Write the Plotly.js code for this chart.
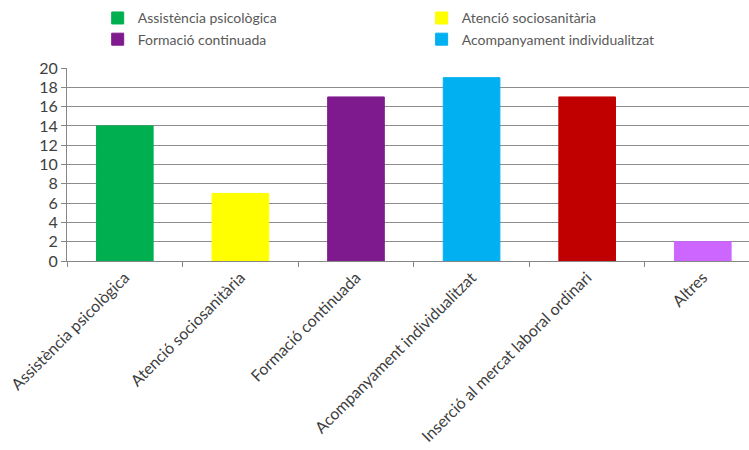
<!DOCTYPE html>
<html>
<head>
<meta charset="utf-8">
<script src="https://cdn.plot.ly/plotly-3.0.1.min.js"></script>
<style>html,body{margin:0;padding:0;background:#fff;}#chart{width:749px;height:450px;}</style>
</head>
<body>
<div id="chart"></div>
<script>
const categories = ["Assistència psicològica", "Atenció sociosanitària", "Formació continuada", "Acompanyament individualitzat", "Inserció al mercat laboral ordinari", "Altres"];
const values = [14, 7, 17, 19, 17, 2];
const colors = ["#00B050", "#FFFF00", "#7F1A8E", "#00B0F0", "#C00000", "#CC66FF"];
const showInLegend = [true, true, true, true, false, false];
const legendGroup = ["legend", "legend2", "legend", "legend2", "legend", "legend"];
const yTicks = [0, 2, 4, 6, 8, 10, 12, 14, 16, 18, 20];

const traces = categories.map((c, i) => ({
  type: "bar",
  x: [c],
  y: [values[i]],
  name: c,
  width: 0.49,
  showlegend: showInLegend[i],
  legend: legendGroup[i],
  marker: {color: colors[i], line: {color: colors[i], width: 1}},
  hoverinfo: "x+y"
}));

const legendCommon = {
  orientation: "v",
  yanchor: "top",
  xanchor: "left",
  bgcolor: "rgba(0,0,0,0)",
  font: {size: 14, color: "#595959", family: "Lato, sans-serif"},
  itemwidth: 30,
  tracegroupgap: 0,
  traceorder: "normal"
};

const layout = {
  width: 749,
  height: 450,
  margin: {l: 67, r: 0, t: 68, b: 189},
  paper_bgcolor: "#ffffff",
  plot_bgcolor: "#ffffff",
  barmode: "overlay",
  font: {family: "Lato, 'Open Sans', sans-serif", color: "#404040"},
  showlegend: true,
  legend: Object.assign({}, legendCommon, {x: 0.045, y: 1.34}),
  legend2: Object.assign({}, legendCommon, {x: 0.52, y: 1.34}),
  xaxis: {
    type: "category",
    categoryorder: "array",
    categoryarray: categories,
    range: [-0.5, 5.4],
    tickangle: -45,
    tickfont: {size: 16, color: "#404040"},
    ticks: "outside",
    tickson: "boundaries",
    ticklen: 5,
    tickcolor: "#868686",
    showline: true,
    linecolor: "#868686",
    linewidth: 1,
    showgrid: false,
    zeroline: false,
    fixedrange: true
  },
  yaxis: {
    range: [0, 20],
    tickvals: yTicks,
    ticktext: yTicks.map(String),
    tickfont: {size: 16, color: "#404040"},
    ticks: "outside",
    ticklen: 5,
    tickcolor: "#868686",
    showline: true,
    linecolor: "#868686",
    linewidth: 1,
    showgrid: true,
    gridcolor: "#8C8C8C",
    gridwidth: 1,
    zeroline: false,
    fixedrange: true
  }
};

Plotly.newPlot("chart", traces, layout, {displayModeBar: false, staticPlot: true});
</script>
</body>
</html>
